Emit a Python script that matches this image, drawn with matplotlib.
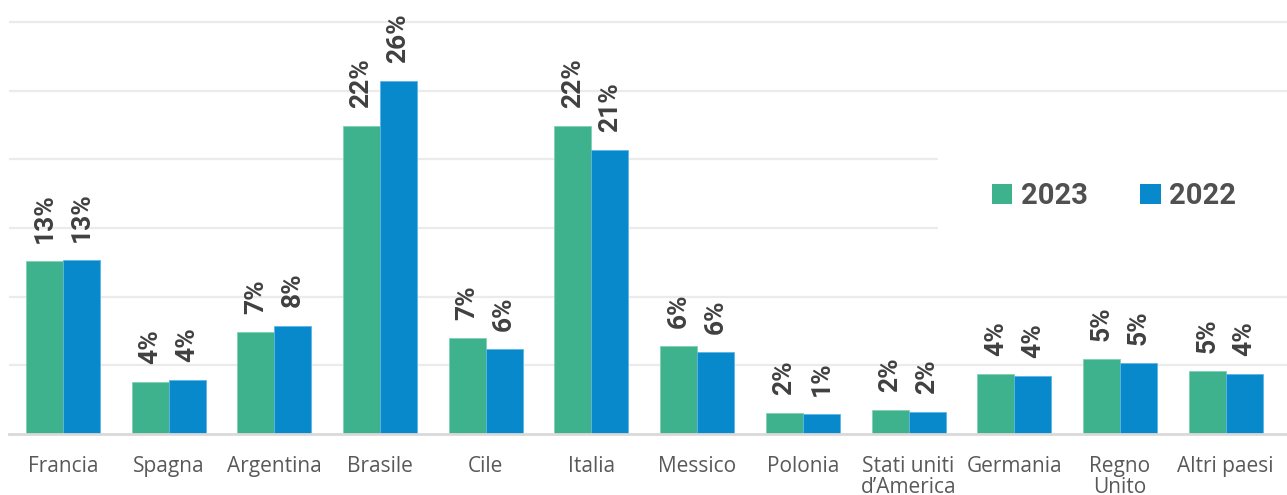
import matplotlib
matplotlib.use("Agg")
import matplotlib.pyplot as plt
import numpy as np
from matplotlib.patches import Rectangle, Patch

# Share of exports by destination country (%)
countries = ["Francia", "Spagna", "Argentina", "Brasile", "Cile", "Italia",
             "Messico", "Polonia", "Stati uniti\nd\u2019America", "Germania",
             "Regno\nUnito", "Altri paesi"]
share_2023 = [12.6, 3.8, 7.4, 22.4, 7.0, 22.4, 6.4, 1.54, 1.75, 4.35, 5.44, 4.59]
share_2022 = [12.7, 3.9, 7.9, 25.7, 6.2, 20.7, 6.0, 1.46, 1.6, 4.22, 5.2, 4.35]
series_labels = ["2023", "2022"]

GREEN = "#3EB28C"
BLUE = "#0889CC"
VALUE_COLOR = "#404040"
TICK_COLOR = "#595959"

fig = plt.figure(figsize=(12.87, 4.95), dpi=100)
ax = fig.add_axes([9 / 1287, 61 / 495, 1 - 9 / 1287, 434 / 495])

x = np.arange(len(countries))
w = 0.35
b1 = ax.bar(x - w / 2, share_2023, width=w, color=GREEN, edgecolor="#7fd0b2",
            linewidth=0.6, zorder=3)
b2 = ax.bar(x + w / 2, share_2022, width=w, color=BLUE, edgecolor="#5cb6e6",
            linewidth=0.6, zorder=3)

for bars, vals in ((b1, share_2023), (b2, share_2022)):
    for rect, v in zip(bars, vals):
        ax.annotate(f"{round(v):d}%",
                    xy=(rect.get_x() + rect.get_width() / 2, rect.get_height()),
                    xytext=(0, 13), textcoords="offset points",
                    rotation=90, ha="center", va="bottom",
                    fontsize=19, fontweight="bold", family="Roboto",
                    color=VALUE_COLOR, zorder=5)

ax.set_xlim(-0.51, len(countries) - 0.42)
ax.set_ylim(0, 31.6)
ax.set_yticks(np.arange(5, 31, 5))
ax.yaxis.grid(True, color="#EBEBEB", linewidth=1.6, zorder=0)
ax.set_axisbelow(True)
ax.tick_params(axis="y", left=False, labelleft=False)
ax.set_xticks(x)
ax.set_xticklabels(countries, fontsize=15, family="Open Sans",
                   color=TICK_COLOR, linespacing=1.0, va="top")
ax.tick_params(axis="x", length=0, pad=16)
for side in ("top", "right", "left"):
    ax.spines[side].set_visible(False)
ax.spines["bottom"].set_color("#D9D9D9")
ax.spines["bottom"].set_linewidth(2)
ax.spines["bottom"].set_zorder(4)

# white panel behind the legend
fig.patches.append(Rectangle((938 / 1287, (495 - 255) / 495),
                             1 - 938 / 1287, 115 / 495,
                             transform=fig.transFigure, facecolor="white",
                             edgecolor="none", zorder=2))

handles = [Patch(facecolor=GREEN), Patch(facecolor=BLUE)]
leg = fig.legend(handles, series_labels, loc="center left",
                 bbox_to_anchor=(977 / 1287, (495 - 196) / 495),
                 ncol=2, frameon=False, handlelength=0.7, handleheight=0.7,
                 handletextpad=0.3, columnspacing=1.8, borderpad=0,
                 prop={"family": "Roboto", "weight": "bold", "size": 21})
for t in leg.get_texts():
    t.set_color("#505050")
leg.set_zorder(6)

fig.savefig("out.png", dpi=100, facecolor="white")
